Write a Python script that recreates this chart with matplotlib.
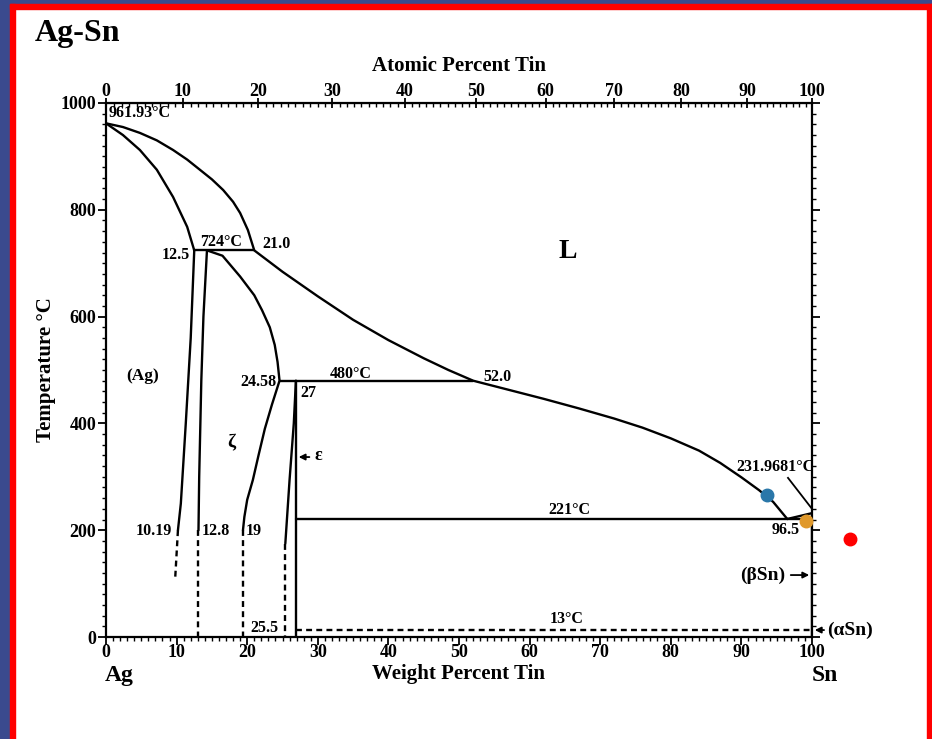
import numpy as np
import matplotlib
matplotlib.use("Agg")
import matplotlib.pyplot as plt
from matplotlib.patches import Rectangle

# ---------------- data (wt% Sn, temperature degC) ----------------
liquidus_wt = [0, 2.4, 4.8, 7.2, 9.5, 11.5, 13.3, 15.0, 16.6, 18.0, 19.0, 20.1, 21.0,
               25, 30, 35, 40, 45, 48.5, 52.0,
               57, 62, 67, 72, 76, 80, 84, 87, 90, 92.5, 94.5, 96.5]
liquidus_T = [961.93, 955, 944, 930, 912, 894, 875, 857, 837, 815, 794, 762, 724,
              684, 638, 594, 556, 522, 500, 480,
              463, 446, 428, 409, 392, 372, 349, 326, 299, 275, 253, 221]

solidus_wt = [0, 2.4, 4.8, 7.2, 9.5, 11.5, 12.5]
solidus_T = [961.93, 940, 912, 875, 824, 768, 724]

ag_solvus_wt = [12.5, 12.0, 11.3, 10.6, 10.19]
ag_solvus_T = [724, 560, 400, 250, 200]
ag_solvus_dot_wt = [10.19, 9.8]
ag_solvus_dot_T = [200, 110]

zeta_left_wt = [14.3, 13.8, 13.5, 13.2, 13.1]
zeta_left_T = [724, 600, 480, 300, 200]
zeta_left_dot_wt = [13.1, 13.1]
zeta_left_dot_T = [200, 0]

zeta_right_wt = [14.3, 16.5, 19.0, 21.0, 22.1, 23.2, 23.9, 24.3, 24.58,
                 23.5, 22.5, 21.6, 20.8, 20.0, 19.6, 19.4]
zeta_right_T = [724, 714, 675, 640, 612, 580, 547, 515, 480,
                435, 390, 340, 294, 257, 225, 200]
zeta_right_dot_wt = [19.4, 19.4]
zeta_right_dot_T = [200, 0]

eps_left_wt = [26.9, 26.6, 26.0, 25.4]
eps_left_T = [480, 400, 294, 175]
eps_left_dot_wt = [25.4, 25.4]
eps_left_dot_T = [175, 0]

eps_right_wt = [26.9, 26.9]
eps_right_T = [480, 0]

peritectic1_wt = [12.5, 21.0]
peritectic1_T = [724, 724]
peritectic2_wt = [24.58, 52.0]
peritectic2_T = [480, 480]
eutectic_wt = [26.9, 100]
eutectic_T = [221, 221]
eut_to_sn_wt = [96.5, 100]
eut_to_sn_T = [221, 231.97]
sn_line_wt = [100, 100]
sn_line_T = [0, 231.97]
transf_wt = [26.9, 100]
transf_T = [13, 13]

dot_wt = [93.6, 99.1, 105.4]
dot_T = [266, 217, 184]
dot_colors = ["#2a77a9", "#e0992c", "#ff0000"]

x_ticks = [0, 10, 20, 30, 40, 50, 60, 70, 80, 90, 100]
y_ticks = [0, 200, 400, 600, 800, 1000]
top_ticks = [0, 10, 20, 30, 40, 50, 60, 70, 80, 90, 100]

M_AG, M_SN = 107.87, 118.71


def wt2at(w):
    w = np.asarray(w, dtype=float)
    w = np.clip(w, 0, 100)
    a = w / M_SN
    b = (100 - w) / M_AG
    return 100 * a / (a + b)


def at2wt(x):
    x = np.asarray(x, dtype=float)
    x = np.clip(x, 0, 100)
    a = x * M_SN
    b = (100 - x) * M_AG
    return 100 * a / (a + b)


# ---------------- figure ----------------
W, H = 932, 739
fig = plt.figure(figsize=(W / 100, H / 100), dpi=100)
fig.patch.set_facecolor("white")

blue = "#3a4a8e"
red = "#ff0000"


def px_rect(x0, y0, x1, y1, color):
    fig.patches.append(Rectangle((x0 / W, 1 - y1 / H), (x1 - x0) / W, (y1 - y0) / H,
                                 transform=fig.transFigure, color=color, zorder=0))


px_rect(0, 0, 9.5, H, blue)
px_rect(0, 0, W, 4, blue)
px_rect(9.5, 4, 15, H, red)
px_rect(9.5, 4, W, 9, red)
px_rect(927, 4, W, H, red)

SERIF = ["Liberation Serif", "DejaVu Serif"]
plt.rcParams["font.family"] = SERIF
plt.rcParams["font.weight"] = "bold"

ax_l, ax_r, ax_t, ax_b = 106, 812, 103, 637
ax = fig.add_axes([ax_l / W, 1 - ax_b / H, (ax_r - ax_l) / W, (ax_b - ax_t) / H])
ax.set_xlim(0, 100)
ax.set_ylim(0, 1000)
for s in ax.spines.values():
    s.set_linewidth(1.6)

lw = 1.7
k = "black"
dash = (0, (2.5, 1.8))
ln = dict(color=k, lw=lw, solid_joinstyle="round", solid_capstyle="round")

ax.plot(liquidus_wt, liquidus_T, **ln)
ax.plot(solidus_wt, solidus_T, **ln)
ax.plot(ag_solvus_wt, ag_solvus_T, **ln)
ax.plot(ag_solvus_dot_wt, ag_solvus_dot_T, color=k, lw=lw, ls=dash)
ax.plot(zeta_left_wt, zeta_left_T, **ln)
ax.plot(zeta_left_dot_wt, zeta_left_dot_T, color=k, lw=lw, ls=dash)
ax.plot(zeta_right_wt, zeta_right_T, **ln)
ax.plot(zeta_right_dot_wt, zeta_right_dot_T, color=k, lw=lw, ls=dash)
ax.plot(eps_left_wt, eps_left_T, **ln)
ax.plot(eps_left_dot_wt, eps_left_dot_T, color=k, lw=lw, ls=dash)
ax.plot(eps_right_wt, eps_right_T, **ln)
ax.plot(peritectic1_wt, peritectic1_T, **ln)
ax.plot(peritectic2_wt, peritectic2_T, **ln)
ax.plot(eutectic_wt, eutectic_T, **ln)
ax.plot(eut_to_sn_wt, eut_to_sn_T, **ln)
ax.plot(sn_line_wt, sn_line_T, **ln)
ax.plot(transf_wt, transf_T, color=k, lw=lw, ls=dash)

# leader line for Sn melting point
ax.plot([96.6, 100], [298, 240], color=k, lw=1.3)

for w, t, c in zip(dot_wt, dot_T, dot_colors):
    ax.plot(w, t, "o", color=c, ms=9, clip_on=False, zorder=5)

# ticks
ax.set_xticks(x_ticks)
ax.set_xticks(np.arange(0, 101, 1), minor=True)
ax.set_yticks(y_ticks)
ax.set_yticks(np.arange(0, 1001, 20), minor=True)
ax.tick_params(axis="x", which="major", direction="out", length=6, width=1.3,
               labelsize=13, pad=-1, top=False)
ax.tick_params(axis="x", which="minor", direction="out", length=3, width=1.0, top=False)
ax.tick_params(axis="y", which="major", direction="out", length=6, width=1.3,
               labelsize=13, pad=1, right=True)
ax.tick_params(axis="y", which="minor", direction="out", length=3, width=1.0, right=True)
for lab in ax.get_xticklabels() + ax.get_yticklabels():
    lab.set_fontweight("bold")

sec = ax.secondary_xaxis("top", functions=(wt2at, at2wt))
sec.set_xticks(top_ticks)
sec.set_xticks(np.arange(0, 101, 1), minor=True)
sec.tick_params(which="major", direction="inout", length=7, width=1.3, labelsize=13, pad=-1)
sec.tick_params(which="minor", direction="in", length=3, width=1.0)
for lab in sec.get_xticklabels():
    lab.set_fontweight("bold")
sec.set_xlabel("Atomic Percent Tin", fontsize=15, fontweight="bold", labelpad=8)

ax.set_xlabel("Weight Percent Tin", fontsize=15, fontweight="bold", labelpad=2)
ax.set_ylabel("Temperature \u00b0C", fontsize=15, fontweight="bold", labelpad=3)

fs = 11.5
tk = dict(fontsize=fs, fontweight="bold")
ax.text(0.4, 981, "961.93\u00b0C", ha="left", va="center", **tk)
ax.text(11.9, 715, "12.5", ha="right", va="center", **tk)
ax.text(13.3, 740, "724\u00b0C", ha="left", va="center", **tk)
ax.text(22.1, 736, "21.0", ha="left", va="center", **tk)
ax.text(65.4, 721, "L", ha="center", va="center", fontsize=20, fontweight="bold")
ax.text(5.2, 489, "(Ag)", ha="center", va="center", fontsize=12.5, fontweight="bold")
ax.text(24.1, 478, "24.58", ha="right", va="center", **tk)
ax.text(31.7, 492, "480\u00b0C", ha="left", va="center", **tk)
ax.text(27.5, 457, "27", ha="left", va="center", **tk)
ax.text(53.4, 487, "52.0", ha="left", va="center", **tk)
ax.text(17.8, 363, "\u03b6", ha="center", va="center", fontsize=14, fontweight="bold")
ax.annotate("", xy=(26.9, 337), xytext=(29.2, 337),
            arrowprops=dict(arrowstyle="-|>", color=k, lw=1.3, mutation_scale=9))
ax.text(29.5, 340, "\u03b5", ha="left", va="center", fontsize=13, fontweight="bold")
ax.text(100.4, 318, "231.9681\u00b0C", ha="right", va="center", **tk)
ax.text(98.3, 200, "96.5", ha="right", va="center", **tk)
ax.text(65.7, 238, "221\u00b0C", ha="center", va="center", **tk)
ax.text(9.3, 198, "10.19", ha="right", va="center", **tk)
ax.text(13.6, 198, "12.8", ha="left", va="center", **tk)
ax.text(19.8, 198, "19", ha="left", va="center", **tk)
ax.text(22.4, 17, "25.5", ha="center", va="center", **tk)
ax.text(65.2, 33, "13\u00b0C", ha="center", va="center", **tk)
ax.annotate("", xy=(100, 116), xytext=(96.6, 116),
            arrowprops=dict(arrowstyle="-|>", color=k, lw=1.3, mutation_scale=9),
            annotation_clip=False)
ax.text(96.2, 116, "(\u03b2Sn)", ha="right", va="center", fontsize=14, fontweight="bold")
ax.annotate("", xy=(100, 13), xytext=(102.1, 13),
            arrowprops=dict(arrowstyle="-|>", color=k, lw=1.3, mutation_scale=9),
            annotation_clip=False)
ax.text(102.1, 13, "(\u03b1Sn)", ha="left", va="center", fontsize=14, fontweight="bold",
        clip_on=False)
ax.text(1.9, -73, "Ag", ha="center", va="center", fontsize=17, fontweight="bold",
        clip_on=False)
ax.text(101.8, -73, "Sn", ha="center", va="center", fontsize=17, fontweight="bold",
        clip_on=False)

fig.text(35 / W, 1 - 33 / H, "Ag-Sn", ha="left", va="center", fontsize=23,
         fontweight="bold")

fig.savefig("out.png", dpi=100)
